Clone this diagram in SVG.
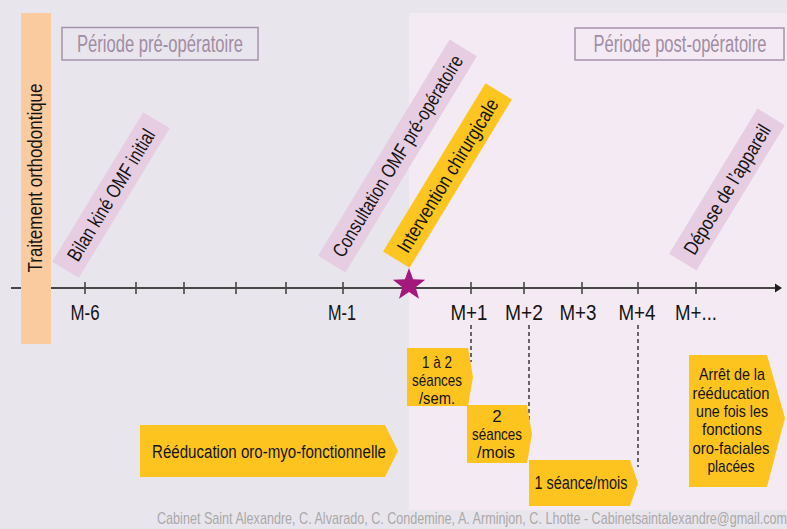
<svg xmlns="http://www.w3.org/2000/svg" width="787" height="529" viewBox="0 0 787 529">
  <defs>
    <style>
      text { font-family: "Liberation Sans Narrow", "Liberation Sans", "DejaVu Sans Condensed", sans-serif; fill: #141414; }
      .period-box { fill: none; stroke: #A693AB; stroke-width: 1.5; }
      .period-txt { font-size: 23px; fill: #A08DA5; text-anchor: middle; }
      .tag-pink { fill: #E6CDE1; }
      .tag-yellow { fill: #FDC51F; }
      .tag-txt { font-size: 20px; text-anchor: middle; }
      .tick { stroke: #474747; stroke-width: 1.6; }
      .month { font-size: 22px; text-anchor: middle; }
      .guide { stroke: #1E1E1E; stroke-width: 1.3; stroke-dasharray: 4 3; fill: none; }
      .step { fill: #FDC41F; }
      .step-txt { font-size: 17px; text-anchor: middle; }
      .credit { font-size: 17px; fill: #A9A9A9; }
    </style>
  </defs>

  <!-- backgrounds -->
  <rect x="0" y="0" width="787" height="529" fill="#E9E5EC"/>
  <rect x="409" y="13" width="378" height="497" fill="#F4EAF3"/>

  <!-- period captions -->
  <g id="periode-pre">
    <rect class="period-box" x="62" y="27.5" width="196" height="32.5"/>
    <text class="period-txt" x="160" y="52" textLength="166" lengthAdjust="spacingAndGlyphs">Période pré-opératoire</text>
  </g>
  <g id="periode-post">
    <rect class="period-box" x="575" y="28" width="209" height="32"/>
    <text class="period-txt" x="680" y="52" textLength="173" lengthAdjust="spacingAndGlyphs">Période post-opératoire</text>
  </g>

  <!-- time axis with ticks -->
  <g id="axe">
    <line x1="11" y1="288" x2="777" y2="288" stroke="#474747" stroke-width="2"/>
    <polygon points="775,283.5 782,288 775,292.5" fill="#1E1E1E"/>
    <line class="tick" x1="85" y1="282" x2="85" y2="294"/>
    <line class="tick" x1="136" y1="282" x2="136" y2="294"/>
    <line class="tick" x1="184" y1="282" x2="184" y2="294"/>
    <line class="tick" x1="236" y1="282" x2="236" y2="294"/>
    <line class="tick" x1="286" y1="282" x2="286" y2="294"/>
    <line class="tick" x1="343" y1="282" x2="343" y2="294"/>
    <line class="tick" x1="471" y1="282" x2="471" y2="294"/>
    <line class="tick" x1="524" y1="282" x2="524" y2="294"/>
    <line class="tick" x1="582" y1="282" x2="582" y2="294"/>
    <line class="tick" x1="638" y1="282" x2="638" y2="294"/>
    <line class="tick" x1="696" y1="282" x2="696" y2="294"/>
    <text class="month" x="85" y="320" textLength="29" lengthAdjust="spacingAndGlyphs">M-6</text>
    <text class="month" x="342" y="320" textLength="28" lengthAdjust="spacingAndGlyphs">M-1</text>
    <text class="month" x="469" y="320" textLength="37" lengthAdjust="spacingAndGlyphs">M+1</text>
    <text class="month" x="524" y="320" textLength="38" lengthAdjust="spacingAndGlyphs">M+2</text>
    <text class="month" x="578" y="320" textLength="37" lengthAdjust="spacingAndGlyphs">M+3</text>
    <text class="month" x="637" y="320" textLength="37" lengthAdjust="spacingAndGlyphs">M+4</text>
    <text class="month" x="696" y="320" textLength="42" lengthAdjust="spacingAndGlyphs">M+...</text>
  </g>

  <!-- orthodontic treatment bar -->
  <g id="traitement">
    <rect x="21" y="13" width="30" height="331" fill="#FACB9F"/>
    <text class="tag-txt" transform="translate(42,178) rotate(-90)" style="font-size:21px" textLength="189" lengthAdjust="spacingAndGlyphs">Traitement orthodontique</text>
  </g>

  <!-- slanted milestone tags -->
  <g id="bilan" transform="translate(111,195) rotate(-58.7)">
    <rect class="tag-pink" x="-87.5" y="-15.5" width="175" height="31"/>
    <text class="tag-txt" x="0" y="7" textLength="150" lengthAdjust="spacingAndGlyphs">Bilan kiné OMF initial</text>
  </g>
  <g id="consultation" transform="translate(397.5,156) rotate(-58.7)">
    <rect class="tag-pink" x="-126.5" y="-16" width="253" height="32"/>
    <text class="tag-txt" x="0" y="7" textLength="232" lengthAdjust="spacingAndGlyphs">Consultation OMF pré-opératoire</text>
  </g>
  <g id="intervention" transform="translate(447.5,175.5) rotate(-58.7)">
    <rect class="tag-yellow" x="-98.5" y="-15.5" width="197" height="31"/>
    <text class="tag-txt" x="0" y="7" textLength="176" lengthAdjust="spacingAndGlyphs">Intervention chirurgicale</text>
  </g>
  <g id="depose" transform="translate(727,189.5) rotate(-58.7)">
    <rect class="tag-pink" x="-85" y="-16" width="170" height="32"/>
    <text class="tag-txt" x="0" y="7" textLength="148" lengthAdjust="spacingAndGlyphs">Dépose de l’appareil</text>
  </g>

  <!-- surgery marker -->
  <g id="chirurgie">
    <polygon transform="translate(409,285)" fill="#A3187A" points="0,-17 4.11,-5.66 16.17,-5.25 6.66,2.16 9.99,13.75 0,7 -9.99,13.75 -6.66,2.16 -16.17,-5.25 -4.11,-5.66"/>
  </g>

  <!-- dashed guides from months to session steps -->
  <g id="connecteurs">
    <line class="guide" x1="471" y1="325" x2="471" y2="362"/>
    <line class="guide" x1="529" y1="325" x2="529" y2="422"/>
    <line class="guide" x1="638" y1="325" x2="638" y2="467"/>
  </g>

  <!-- therapy steps -->
  <g id="reeducation">
    <polygon class="step" points="140,425 385,425 398,451 385,477 140,477"/>
    <text class="step-txt" x="269" y="457.5" style="font-size:18px" textLength="234" lengthAdjust="spacingAndGlyphs">Rééducation oro-myo-fonctionnelle</text>
  </g>
  <g id="seances-sem">
    <polygon class="step" points="407,348 468,348 473,377 468,406 407,406"/>
    <text class="step-txt" x="437" y="368" textLength="30" lengthAdjust="spacingAndGlyphs">1 à 2</text>
    <text class="step-txt" x="437" y="386" textLength="50" lengthAdjust="spacingAndGlyphs">séances</text>
    <text class="step-txt" x="437" y="403.5" textLength="36" lengthAdjust="spacingAndGlyphs">/sem.</text>
  </g>
  <g id="seances-mois">
    <polygon class="step" points="467,405 527,405 532,434 527,463 467,463"/>
    <text class="step-txt" x="497" y="422">2</text>
    <text class="step-txt" x="497" y="440" textLength="50" lengthAdjust="spacingAndGlyphs">séances</text>
    <text class="step-txt" x="496" y="458" textLength="38" lengthAdjust="spacingAndGlyphs">/mois</text>
  </g>
  <g id="seance-mois">
    <polygon class="step" points="529,460 630,460 638,483 630,506 529,506"/>
    <text class="step-txt" x="581" y="488.5" style="font-size:18px" textLength="93" lengthAdjust="spacingAndGlyphs">1 séance/mois</text>
  </g>
  <g id="arret">
    <polygon class="step" points="689,355 767,355 785,418 767,487 689,487"/>
    <text class="step-txt" x="732" y="380" textLength="66" lengthAdjust="spacingAndGlyphs">Arrêt de la</text>
    <text class="step-txt" x="731" y="398.5" textLength="77" lengthAdjust="spacingAndGlyphs">rééducation</text>
    <text class="step-txt" x="732" y="417" textLength="72" lengthAdjust="spacingAndGlyphs">une fois les</text>
    <text class="step-txt" x="732" y="435" textLength="60" lengthAdjust="spacingAndGlyphs">fonctions</text>
    <text class="step-txt" x="731" y="453.5" textLength="77" lengthAdjust="spacingAndGlyphs">oro-faciales</text>
    <text class="step-txt" x="731" y="472" textLength="47" lengthAdjust="spacingAndGlyphs">placées</text>
  </g>

  <!-- credit line -->
  <text class="credit" x="157" y="524" textLength="630" lengthAdjust="spacingAndGlyphs">Cabinet Saint Alexandre, C. Alvarado, C. Condemine, A. Arminjon, C. Lhotte - Cabinetsaintalexandre@gmail.com</text>
</svg>
